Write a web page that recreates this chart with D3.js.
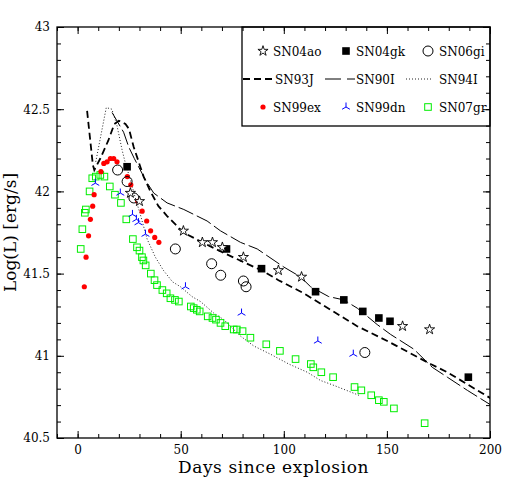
<!DOCTYPE html>
<html>
<head>
<meta charset="utf-8">
<script src="https://d3js.org/d3.v7.min.js"></script>
<style>
body { margin: 0; background: #fff; }
svg text { font-family: "DejaVu Serif", serif; fill: #000; }
</style>
</head>
<body>
<div id="chart"></div>
<script>
// values, each point is [days since explosion, log L]
var sn04ao = [[25.6,41.99],[30.0,41.94],[51.3,41.76],[60.5,41.69],[65.4,41.69],[70.2,41.66],
  [80.4,41.60],[97.4,41.52],[108.6,41.48],[157.6,41.18],[170.7,41.16]];

var sn04gk = [[24.0,42.15],[72.2,41.65],[89.2,41.53],[115.4,41.39],[129.1,41.34],[138.3,41.27],
  [146.1,41.23],[151.5,41.21],[189.5,40.87]];

var sn06gi = [[19.4,42.13],[24.0,42.06],[27.3,41.96],[47.4,41.65],[65.0,41.56],[69.4,41.49],
  [80.4,41.455],[81.7,41.42],[139.3,41.02]];

var sn99ex = [[3.25,41.42],[4.1,41.60],[5.3,41.73],[6.2,41.83],[7.3,41.91],[8.0,41.98],[11.3,42.12],
  [12.7,42.17],[14.3,42.18],[15.9,42.20],[17.5,42.20],[19.1,42.18],[24.1,42.09],[25.8,42.04],
  [29.2,41.94],[31.3,41.88],[33.5,41.82],[35.4,41.76],[37.4,41.72],[39.4,41.69]];

var sn99dn = [[8.6,42.05],[20.7,41.99],[26.6,41.86],[28.5,41.83],[29.5,41.81],[32.9,41.74],
  [52.3,41.42],[79.5,41.26],[116.5,41.09],[133.7,41.01]];

var sn07gr = [[1.5,41.65],[2.3,41.77],[3.5,41.87],[4.0,41.89],[5.8,42.00],[7.1,42.08],[8.8,42.09],
  [11.0,42.10],[13.0,42.09],[15.6,42.03],[18.1,41.98],[21.0,41.93],[23.6,41.83],[26.8,41.71],
  [28.8,41.66],[30.0,41.64],[31.2,41.60],[31.9,41.58],[33.0,41.55],[35.5,41.50],[37.3,41.46],
  [38.5,41.43],[41.1,41.40],[43.2,41.38],[45.0,41.35],[47.2,41.34],[49.1,41.33],[54.9,41.30],
  [56.3,41.29],[57.8,41.28],[59.2,41.27],[63.1,41.24],[65.4,41.23],[67.1,41.22],[69.3,41.20],
  [71.6,41.18],[75.7,41.16],[77.2,41.16],[80.0,41.15],[83.8,41.11],[91.5,41.07],[98.1,41.03],
  [105.7,40.98],[113.1,40.95],[114.3,40.93],[118.2,40.90],[123.9,40.87],[134.3,40.81],
  [137.6,40.79],[142.4,40.76],[146.1,40.73],[148.5,40.72],[153.4,40.68],[168.3,40.59]];

var sn93J = [[4.6,42.49],[7.4,42.16],[8.1,42.13],[11.0,42.20],[14.9,42.31],[17.8,42.41],[20.0,42.43],
  [23.2,42.41],[24.9,42.38],[27.2,42.27],[29.6,42.18],[32.0,42.09],[35.3,42.00],[39.2,41.91],
  [43.4,41.85],[51.3,41.75],[60.5,41.69],[70.2,41.63],[80.4,41.57],[89.2,41.52],[97.4,41.46],
  [109.7,41.38],[122.7,41.28],[135.6,41.18],[150.2,41.09],[171.2,40.95],[179.3,40.90],[200.5,40.74]];

var sn90I = [[16.7,42.48],[22.3,42.36],[24.8,42.27],[27.5,42.20],[30.4,42.13],[33.3,42.06],
  [36.9,41.99],[43.4,41.93],[51.5,41.89],[62.8,41.82],[69.3,41.76],[79.0,41.69],[87.1,41.65],
  [100.0,41.54],[108.1,41.48],[113.0,41.42],[121.8,41.36],[129.1,41.34],[135.6,41.29],
  [140.5,41.24],[145.3,41.19],[151.8,41.13],[163.1,41.04],[172.0,40.93],[179.3,40.87],
  [189.0,40.79],[200.5,40.70]];

var sn94I = [[8.8,42.18],[13.9,42.51],[16.6,42.50],[19.1,42.40],[21.6,42.25],[23.2,42.17],
  [25.6,42.07],[28.0,41.96],[30.4,41.86],[33.7,41.71],[37.7,41.60],[41.6,41.52],[46.0,41.45],
  [49.9,41.42],[55.5,41.36],[59.6,41.33],[66.0,41.26],[70.9,41.22],[75.7,41.16],[79.0,41.12],
  [85.4,41.06],[93.5,41.01],[102.4,40.95],[111.4,40.90],[117.8,40.85],[124.3,40.82],[136.4,40.76]];

var xTicks = [0, 50, 100, 150, 200];
var yTicks = [40.5, 41, 41.5, 42, 42.5, 43];
var yTickLabels = ["40.5", "41", "41.5", "42", "42.5", "43"];

var svgWidth = 518;
var svgHeight = 491;

var margin = {
  top: 27,
  right: 28,
  bottom: 53,
  left: 57
};

var width = svgWidth - margin.left - margin.right;
var height = svgHeight - margin.top - margin.bottom;

var svg = d3.select("#chart")
  .append("svg")
  .attr("width", svgWidth)
  .attr("height", svgHeight);

var g = svg.append("g")
  .attr("transform", `translate(${margin.left},${margin.top})`);

var x = d3.scaleLinear().domain([-10, 200]).range([0, width]);
var y = d3.scaleLinear().domain([40.5, 43]).range([height, 0]);

g.append("clipPath").attr("id", "clip")
  .append("rect").attr("width", width).attr("height", height);

// ticks point inwards on all four sides
var minorX = d3.range(-10, 201, 10);
var minorY = d3.range(40.5, 43.01, 0.1);

g.append("g").attr("transform", `translate(0,${height})`)
  .call(d3.axisBottom(x).tickValues(minorX).tickSizeInner(-4).tickSizeOuter(0).tickFormat(""));
g.append("g").attr("transform", `translate(0,${height})`)
  .call(d3.axisBottom(x).tickValues(xTicks).tickSizeInner(-7).tickSizeOuter(0).tickPadding(7));
g.append("g")
  .call(d3.axisTop(x).tickValues(minorX).tickSizeInner(-4).tickSizeOuter(0).tickFormat(""));
g.append("g")
  .call(d3.axisTop(x).tickValues(xTicks).tickSizeInner(-7).tickSizeOuter(0).tickFormat(""));

g.append("g")
  .call(d3.axisLeft(y).tickValues(minorY).tickSizeInner(-4).tickSizeOuter(0).tickFormat(""));
g.append("g")
  .call(d3.axisLeft(y).tickValues(yTicks).tickSizeInner(-7).tickSizeOuter(0).tickPadding(7)
    .tickFormat((d, i) => yTickLabels[i]));
g.append("g").attr("transform", `translate(${width},0)`)
  .call(d3.axisRight(y).tickValues(minorY).tickSizeInner(-4).tickSizeOuter(0).tickFormat(""));
g.append("g").attr("transform", `translate(${width},0)`)
  .call(d3.axisRight(y).tickValues(yTicks).tickSizeInner(-7).tickSizeOuter(0).tickFormat(""));

g.selectAll(".domain").remove();
g.selectAll(".tick line").attr("stroke", "#000").attr("stroke-width", 1);
g.selectAll(".tick text").style("font-size", "12px").style("font-family", "DejaVu Serif");

g.append("rect")
  .attr("width", width)
  .attr("height", height)
  .attr("fill", "none")
  .attr("stroke", "#000")
  .attr("stroke-width", 1.3);

// axis titles
svg.append("text")
  .attr("x", margin.left + width / 2)
  .attr("y", 473)
  .attr("text-anchor", "middle")
  .style("font-size", "17px")
  .style("letter-spacing", "0.6px")
  .text("Days since explosion");

svg.append("text")
  .attr("transform", "translate(16," + (margin.top + height / 2) + ") rotate(-90)")
  .attr("text-anchor", "middle")
  .style("font-size", "17px")
  .text("Log(L) [erg/s]");

// model curves
var line = d3.line().x(d => x(d[0])).y(d => y(d[1]));
var plotArea = g.append("g").attr("clip-path", "url(#clip)");

plotArea.append("path").datum(sn94I).attr("d", line)
  .attr("fill", "none").attr("stroke", "#222").attr("stroke-width", 1).attr("stroke-dasharray", "1,2");
plotArea.append("path").datum(sn90I).attr("d", line)
  .attr("fill", "none").attr("stroke", "#000").attr("stroke-width", 1).attr("stroke-dasharray", "16,4");
plotArea.append("path").datum(sn93J).attr("d", line)
  .attr("fill", "none").attr("stroke", "#000").attr("stroke-width", 1.8).attr("stroke-dasharray", "7,4");

// marker shapes
var starPath = d3.symbol().type(d3.symbolStar).size(32);
function triPath(r) {
  var c = r * 0.866, s = r * 0.5;
  return `M0,0L0,${-r}M0,0L${-c},${s}M0,0L${c},${s}`;
}

plotArea.selectAll(".gr").data(sn07gr).enter().append("rect")
  .attr("x", d => x(d[0]) - 3.3).attr("y", d => y(d[1]) - 3.3)
  .attr("width", 6.6).attr("height", 6.6)
  .attr("fill", "none").attr("stroke", "#00ee00").attr("stroke-width", 1);

plotArea.selectAll(".ex").data(sn99ex).enter().append("circle")
  .attr("cx", d => x(d[0])).attr("cy", d => y(d[1])).attr("r", 2.6)
  .attr("fill", "#ff0000");

plotArea.selectAll(".dn").data(sn99dn).enter().append("path")
  .attr("transform", d => `translate(${x(d[0])},${y(d[1])})`)
  .attr("d", triPath(4.5))
  .attr("fill", "none").attr("stroke", "#0000ff").attr("stroke-width", 1);

plotArea.selectAll(".gi").data(sn06gi).enter().append("circle")
  .attr("cx", d => x(d[0])).attr("cy", d => y(d[1])).attr("r", 5)
  .attr("fill", "none").attr("stroke", "#000").attr("stroke-width", 1);

plotArea.selectAll(".gk").data(sn04gk).enter().append("rect")
  .attr("x", d => x(d[0]) - 3.8).attr("y", d => y(d[1]) - 3.8)
  .attr("width", 7.6).attr("height", 7.6)
  .attr("fill", "#000");

plotArea.selectAll(".ao").data(sn04ao).enter().append("path")
  .attr("transform", d => `translate(${x(d[0])},${y(d[1])})`)
  .attr("d", starPath)
  .attr("fill", "#fff").attr("stroke", "#000").attr("stroke-width", 0.9);

// legend
var legend = svg.append("g");
legend.append("rect")
  .attr("x", 242).attr("y", margin.top)
  .attr("width", margin.left + width - 242).attr("height", 126 - margin.top)
  .attr("fill", "none").attr("stroke", "#000").attr("stroke-width", 1.3);

var rowY = [51, 79, 107];
var colSym = [263, 346, 428];
var colText = [273, 356, 439];

legend.append("path").attr("transform", `translate(${colSym[0]},${rowY[0]})`).attr("d", starPath)
  .attr("fill", "#fff").attr("stroke", "#000").attr("stroke-width", 0.9);
legend.append("rect").attr("x", colSym[1] - 3.8).attr("y", rowY[0] - 3.8).attr("width", 7.6).attr("height", 7.6)
  .attr("fill", "#000");
legend.append("circle").attr("cx", colSym[2]).attr("cy", rowY[0]).attr("r", 5)
  .attr("fill", "none").attr("stroke", "#000");

legend.append("line").attr("x1", 243).attr("x2", 273).attr("y1", rowY[1]).attr("y2", rowY[1])
  .attr("stroke", "#000").attr("stroke-width", 1.8).attr("stroke-dasharray", "7,4");
legend.append("line").attr("x1", 325).attr("x2", 355).attr("y1", rowY[1]).attr("y2", rowY[1])
  .attr("stroke", "#000").attr("stroke-width", 1).attr("stroke-dasharray", "16,6");
legend.append("line").attr("x1", 406).attr("x2", 431).attr("y1", rowY[1]).attr("y2", rowY[1])
  .attr("stroke", "#222").attr("stroke-width", 1).attr("stroke-dasharray", "1,2");

legend.append("circle").attr("cx", colSym[0]).attr("cy", rowY[2]).attr("r", 2.6).attr("fill", "#ff0000");
legend.append("path").attr("transform", `translate(${colSym[1]},${rowY[2]})`).attr("d", triPath(4.5))
  .attr("fill", "none").attr("stroke", "#0000ff");
legend.append("rect").attr("x", colSym[2] - 3.3).attr("y", rowY[2] - 3.3).attr("width", 6.6).attr("height", 6.6)
  .attr("fill", "none").attr("stroke", "#00ee00");

var names = [["SN04ao", "SN04gk", "SN06gi"], ["SN93J", "SN90I", "SN94I"], ["SN99ex", "SN99dn", "SN07gr"]];
names.forEach(function(row, r) {
  row.forEach(function(name, c) {
    legend.append("text")
      .attr("x", colText[c] + (r == 1 && c == 0 ? 2 : 0))
      .attr("y", rowY[r] + 4.5)
      .style("font-size", "12px")
      .text(name);
  });
});
</script>
</body>
</html>
